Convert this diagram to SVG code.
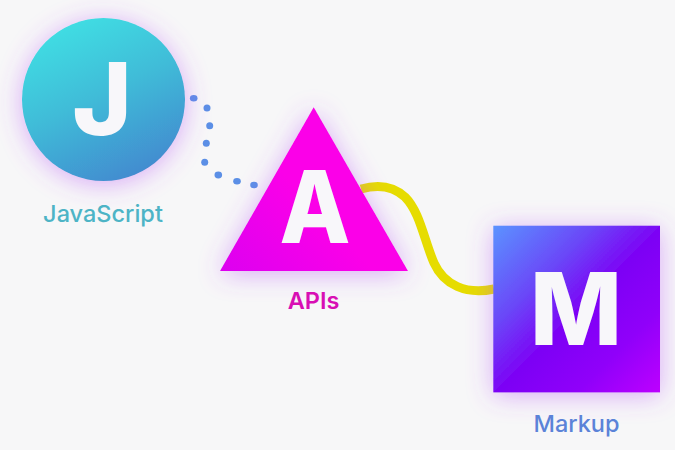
<svg xmlns="http://www.w3.org/2000/svg" width="675" height="450" viewBox="0 0 675 450">
<style>
.letter{font-family:Inter,"Liberation Sans",sans-serif;font-weight:800;font-size:101px;fill:#f8f7fa;text-anchor:middle}
.label{font-family:Inter,"Liberation Sans",sans-serif;font-size:23.5px;font-weight:500;text-anchor:middle}
.strong{font-weight:600}
.dot{fill:#5b8fe6}
</style>
<defs>
<linearGradient id="gJ" x1="0.25" y1="0.05" x2="0.7" y2="1"><stop offset="0" stop-color="#3fdde3"/><stop offset="0.45" stop-color="#3fbcd8"/><stop offset="1" stop-color="#4389cf"/></linearGradient>
<linearGradient id="gA" x1="0" y1="1" x2="0.5" y2="0.6"><stop offset="0" stop-color="#dc00f0"/><stop offset="1" stop-color="#fb00e8"/></linearGradient>
<linearGradient id="gM" x1="0" y1="0" x2="1" y2="1"><stop offset="0" stop-color="#5b93ff"/><stop offset="0.3" stop-color="#6a48f8"/><stop offset="0.52" stop-color="#7d00f5"/><stop offset="0.75" stop-color="#9000fa"/><stop offset="1" stop-color="#bd00ff"/></linearGradient>
<filter id="glow" x="-40%" y="-40%" width="180%" height="180%"><feDropShadow dx="0" dy="3" stdDeviation="13" flood-color="#b44cf5" flood-opacity="0.45"/></filter>
</defs>
<rect width="675" height="450" fill="#f7f7f8"/>
<g id="connectors">
<g id="dots">
<ellipse class="dot" cx="193.7" cy="98.3" rx="3.8" ry="3.2"/><circle class="dot" cx="207" cy="108" r="3.5"/><circle class="dot" cx="209.7" cy="125.7" r="3.5"/><circle class="dot" cx="206.3" cy="143.3" r="3.5"/><circle class="dot" cx="204.7" cy="162.3" r="3.5"/><ellipse class="dot" cx="218.3" cy="175" rx="3.8" ry="3.4"/><ellipse class="dot" cx="237" cy="181.3" rx="3.8" ry="3.2"/><ellipse class="dot" cx="254" cy="185" rx="3.8" ry="3.2"/>
</g>
<path d="M361 189C375 185 392 185 405 197C420 212 424 240 434 263C444 285 466 295 494 289" fill="none" stroke="#e6dc00" stroke-width="9"/>
</g>
<g id="javascript">
<circle cx="103.5" cy="99.5" r="81.5" fill="url(#gJ)" filter="url(#glow)"/>
<text class="letter" x="102" y="135">J</text>
<text class="label" x="103" y="222" fill="#4db4c6">JavaScript</text>
</g>
<g id="apis">
<polygon points="313.7,107.3 408,271 220,271" fill="url(#gA)" filter="url(#glow)"/>
<text class="letter" x="315" y="243" textLength="71" lengthAdjust="spacingAndGlyphs">A</text>
<text class="label strong" x="313.5" y="309" fill="#d80fb4">APIs</text>
</g>
<g id="markup">
<rect x="493.3" y="225.7" width="166.7" height="166.7" fill="url(#gM)" filter="url(#glow)"/>
<text class="letter" x="576" y="345" textLength="92" lengthAdjust="spacingAndGlyphs">M</text>
<text class="label" x="576.5" y="432" fill="#5b83d8">Markup</text>
</g>
</svg>
